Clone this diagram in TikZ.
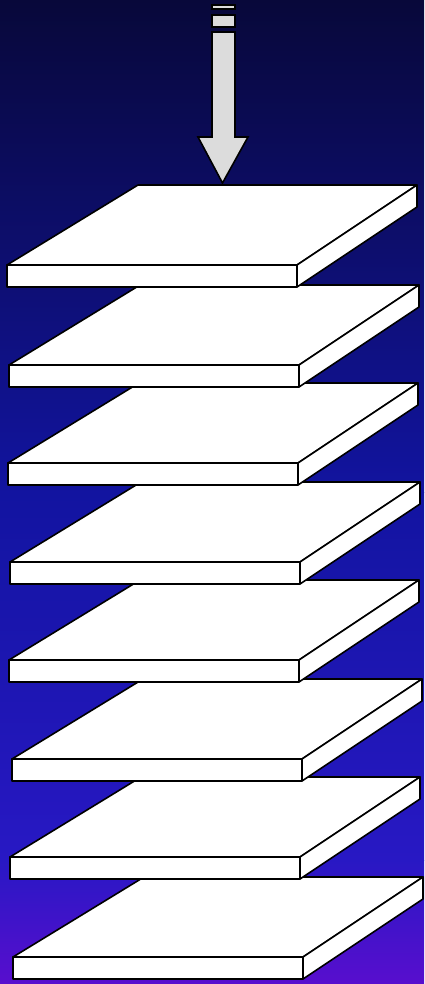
\documentclass[tikz,border=0pt]{standalone}
\usepackage{tikz}
\usetikzlibrary{calc}
\definecolor{skytop}{RGB}{8,8,58}
\definecolor{skymid}{RGB}{18,20,160}
\definecolor{skylow}{RGB}{40,24,196}
\definecolor{skybot}{RGB}{88,14,206}
\definecolor{arrowgrey}{RGB}{220,220,220}
% one slab: front-left top corner at (#1,#2)
\newcommand{\plate}[2]{%
  \draw[plate] (#1,#2) -- ++(290,0) -- ++(120,-80) -- ++(-279,0) -- cycle;
  \draw[plate] (#1,#2) rectangle ++(290,22);
  \draw[plate] ($(#1,#2)+(290,0)$) -- ++(120,-80) -- ++(0,22) -- ++(-120,80) -- cycle;
}

\begin{document}
\begin{tikzpicture}[x=1pt,y=-1pt,
    plate/.style={fill=white,draw=black,line width=1.6pt,line join=round},
    arrowpart/.style={fill=arrowgrey,draw=black,line width=1.6pt}]
  \useasboundingbox (0,0) rectangle (424,984);
  \shade[top color=skytop,bottom color=skymid] (0,0) rectangle (424,492.5);
  \shade[top color=skymid,bottom color=skylow] (0,492) rectangle (424,860.5);
  \shade[top color=skylow,bottom color=skybot] (0,860) rectangle (424,984);
  % slabs, lowest first
  \plate{13}{957}
  \plate{10}{857}
  \plate{12}{759}
  \plate{9}{660}
  \plate{10}{562}
  \plate{8}{463}
  \plate{9}{365}
  \plate{7}{265}
  % arrow
  \draw[arrowpart] (212,5) rectangle (235,9);
  \draw[arrowpart] (212,15) rectangle (235,27);
  \draw[arrowpart] (212,32) -- (235,32) -- (235,137) -- (248,137) -- (222.5,183)
    -- (198,137) -- (212,137) -- cycle;
\end{tikzpicture}
\end{document}
